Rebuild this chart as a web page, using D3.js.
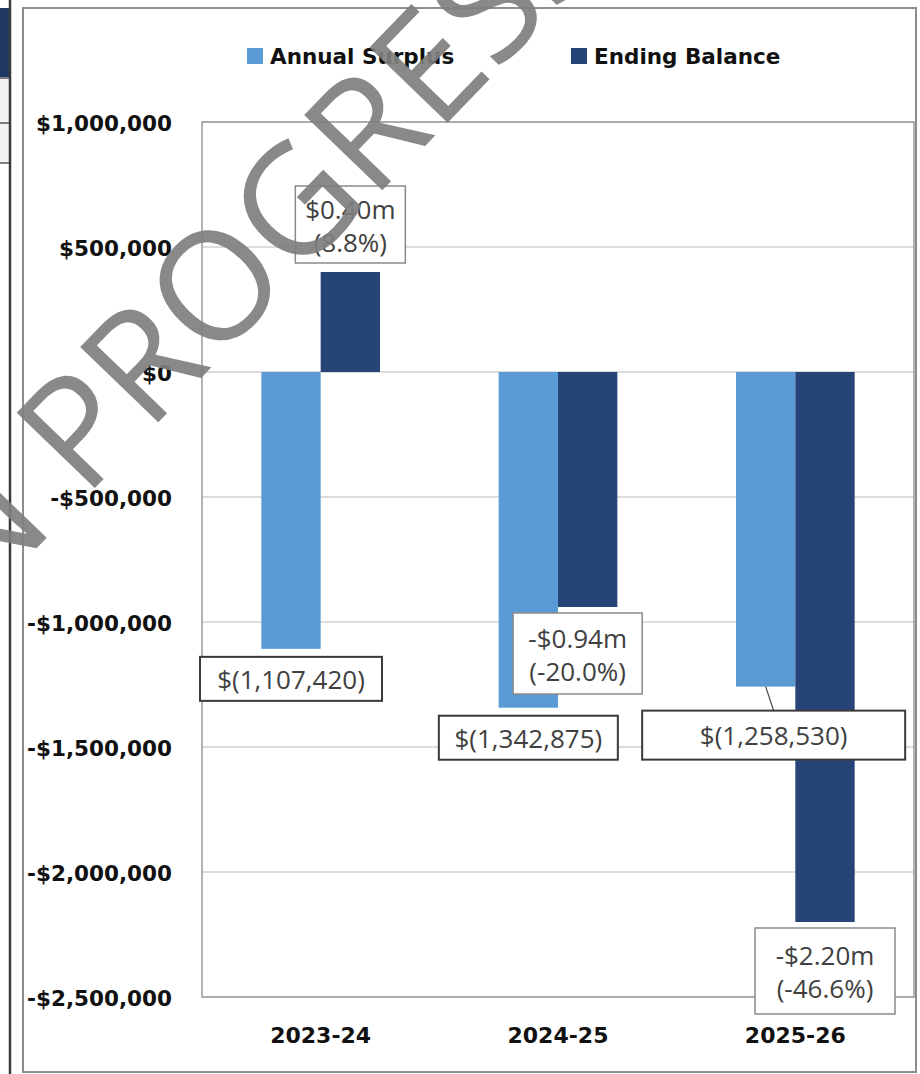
<!DOCTYPE html>
<html>
<head>
<meta charset="utf-8">
<script src="https://cdn.jsdelivr.net/npm/d3@7"></script>
<style>
  body { margin: 0; background: #fff; }
  svg { display: block; }
</style>
</head>
<body>
<div id="main_plot"></div>
<script>
// chart data
var categories = ["2023-24", "2024-25", "2025-26"];
var seriesNames = ["Annual Surplus", "Ending Balance"];
var annualSurplus = [-1107420, -1342875, -1258530];
var endingBalance = [400000, -940000, -2200000];
var endingPct = [8.8, -20.0, -46.6];
var yTicks = [1000000, 500000, 0, -500000, -1000000, -1500000, -2000000, -2500000];

// colours
var seriesColors = ["#5b9bd5", "#264478"];

// hand placed label boxes (offset from bar end, in px)
var surplusBox = [
  {dx: 0, dy: 8, w: 182, h: 44},
  {dx: 0, dy: 8, w: 179, h: 44},
  {dx: 8, dy: 24, w: 263, h: 49}
];
var endingBox = [
  {dx: 0, dy: -86, w: 110, h: 77},
  {dx: -10, dy: 6, w: 129, h: 81},
  {dx: 0, dy: 6, w: 140, h: 86}
];

var W = 920, H = 1074;
var plot = {left: 202, top: 122, right: 914, bottom: 997};

var svg = d3.select("#main_plot")
  .append("svg")
  .attr("width", W)
  .attr("height", H);

// left edge of the neighbouring table
svg.append("rect").attr("x", 0).attr("y", 8).attr("width", 10).attr("height", 69).attr("fill", "#1f3864");
svg.append("rect").attr("x", 0).attr("y", 78).attr("width", 10).attr("height", 85).attr("fill", "#f2f2f2");
[78, 123, 163].forEach(function(yy) {
  svg.append("line").attr("x1", 0).attr("x2", 10).attr("y1", yy).attr("y2", yy)
    .attr("stroke", "#555").attr("stroke-width", 1.5);
});
svg.append("line").attr("x1", 10).attr("x2", 10).attr("y1", 0).attr("y2", H)
  .attr("stroke", "#3a3a3a").attr("stroke-width", 2.5);

// chart frame
svg.append("rect")
  .attr("x", 23).attr("y", 8)
  .attr("width", 893).attr("height", 1064)
  .attr("fill", "#fff")
  .attr("stroke", "#8c8c8c")
  .attr("stroke-width", 2);

// scales
var x = d3.scaleBand()
  .domain(categories)
  .range([plot.left, plot.right])
  .paddingInner(0.5)
  .paddingOuter(0.25);

var xSeries = d3.scaleBand()
  .domain(seriesNames)
  .range([0, x.bandwidth()]);

var y = d3.scaleLinear()
  .domain([-2500000, 1000000])
  .range([plot.bottom, plot.top]);

// gridlines
svg.append("g")
  .selectAll("line")
  .data(yTicks)
  .enter().append("line")
    .attr("x1", plot.left).attr("x2", plot.right)
    .attr("y1", function(d) { return y(d); })
    .attr("y2", function(d) { return y(d); })
    .attr("stroke", "#d0d0d0")
    .attr("stroke-width", 1.5);

// plot area border
svg.append("rect")
  .attr("x", plot.left).attr("y", plot.top)
  .attr("width", plot.right - plot.left).attr("height", plot.bottom - plot.top)
  .attr("fill", "none")
  .attr("stroke", "#9a9a9a")
  .attr("stroke-width", 1.5);

// y axis labels
function fmtAxis(v) {
  var s = d3.format(",")(Math.abs(v));
  return (v < 0 ? "-$" : "$") + s;
}
svg.append("g")
  .selectAll("text")
  .data(yTicks)
  .enter().append("text")
    .attr("x", 172)
    .attr("y", function(d) { return y(d) + 9; })
    .attr("text-anchor", "end")
    .attr("font-family", "DejaVu Sans, sans-serif")
    .attr("font-weight", "bold")
    .attr("font-size", 21.5)
    .attr("fill", "#111")
    .text(fmtAxis);

// x axis labels
svg.append("g")
  .selectAll("text")
  .data(categories)
  .enter().append("text")
    .attr("x", function(d) { return x(d) + x.bandwidth() / 2; })
    .attr("y", 1043)
    .attr("text-anchor", "middle")
    .attr("font-family", "DejaVu Sans, sans-serif")
    .attr("font-weight", "bold")
    .attr("font-size", 22)
    .attr("fill", "#111")
    .text(function(d) { return d; });

// bars
var series = [annualSurplus, endingBalance];
series.forEach(function(vals, si) {
  svg.append("g")
    .selectAll("rect")
    .data(vals)
    .enter().append("rect")
      .attr("x", function(d, i) { return x(categories[i]) + xSeries(seriesNames[si]); })
      .attr("y", function(d) { return y(Math.max(0, d)); })
      .attr("width", xSeries.bandwidth())
      .attr("height", function(d) { return Math.abs(y(d) - y(0)); })
      .attr("fill", seriesColors[si]);
});

// legend
var legendX = [247, 571];
seriesNames.forEach(function(name, si) {
  svg.append("rect")
    .attr("x", legendX[si]).attr("y", 48)
    .attr("width", 16).attr("height", 16)
    .attr("fill", seriesColors[si]);
  svg.append("text")
    .attr("x", legendX[si] + 23).attr("y", 64)
    .attr("font-family", "DejaVu Sans, sans-serif")
    .attr("font-weight", "bold")
    .attr("font-size", 21.5)
    .attr("fill", "#111")
    .text(name);
});

// data labels
var labelFont = "Open Sans, sans-serif";
function barCenter(si, i) {
  return x(categories[i]) + xSeries(seriesNames[si]) + xSeries.bandwidth() / 2;
}

// annual surplus labels
annualSurplus.forEach(function(v, i) {
  var b = surplusBox[i];
  var cx = barCenter(0, i) + b.dx;
  var top = y(v) + b.dy;
  if (b.dy > 12) {
    // leader line
    svg.append("line")
      .attr("x1", barCenter(0, i)).attr("y1", y(v))
      .attr("x2", cx).attr("y2", top)
      .attr("stroke", "#404040").attr("stroke-width", 1.2);
  }
  svg.append("rect")
    .attr("x", cx - b.w / 2).attr("y", top)
    .attr("width", b.w).attr("height", b.h)
    .attr("fill", "#fff")
    .attr("stroke", "#3a3a3a")
    .attr("stroke-width", 2);
  svg.append("text")
    .attr("x", cx).attr("y", top + b.h / 2 + 10)
    .attr("text-anchor", "middle")
    .attr("font-family", labelFont)
    .attr("font-size", 26)
    .attr("fill", "#404040")
    .text("$(" + d3.format(",")(Math.abs(v)) + ")");
});

// ending balance labels
endingBalance.forEach(function(v, i) {
  var b = endingBox[i];
  var cx = barCenter(1, i) + b.dx;
  var top = y(v) + b.dy;
  var mid = top + b.h / 2;
  var p = endingPct[i];
  svg.append("rect")
    .attr("x", cx - b.w / 2).attr("y", top)
    .attr("width", b.w).attr("height", b.h)
    .attr("fill", "#fff")
    .attr("stroke", "#8a8a8a")
    .attr("stroke-width", 1.5);
  var t = svg.append("text")
    .attr("text-anchor", "middle")
    .attr("font-family", labelFont)
    .attr("font-size", 26)
    .attr("fill", "#404040");
  t.append("tspan").attr("x", cx).attr("y", mid - 6)
    .text((v < 0 ? "-$" : "$") + (Math.abs(v) / 1e6).toFixed(2) + "m");
  t.append("tspan").attr("x", cx).attr("y", mid + 27)
    .text("(" + (p < 0 ? "-" : "") + Math.abs(p).toFixed(1) + "%)");
});

// watermark
var wmSize = 152;
svg.append("text")
  .attr("transform", "translate(-52,640) rotate(-46)")
  .attr("font-family", "Open Sans, sans-serif")
  .attr("font-size", wmSize)
  .attr("fill", "#7f7f7f")
  .attr("opacity", 0.92)
  .text("IN PROGRESS");
</script>
</body>
</html>
